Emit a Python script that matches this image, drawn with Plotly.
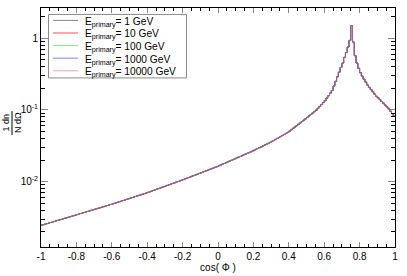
import numpy as np
import plotly.graph_objects as go

# histogram of cos(Phi), 200 bins of width 0.01 from -1 to 1
bin_lo, bin_hi, n_bins = -1.0, 1.0, 200
dn = [
    0.00248, 0.00252, 0.00256, 0.00261, 0.00265, 0.00270, 0.00274, 0.00279, 0.00284, 0.00289,
    0.00293, 0.00298, 0.00304, 0.00309, 0.00314, 0.00319, 0.00325, 0.00330, 0.00336, 0.00342,
    0.00348, 0.00354, 0.00360, 0.00366, 0.00372, 0.00379, 0.00385, 0.00392, 0.00399, 0.00406,
    0.00413, 0.00420, 0.00427, 0.00434, 0.00442, 0.00449, 0.00457, 0.00465, 0.00473, 0.00481,
    0.00490, 0.00499, 0.00508, 0.00518, 0.00527, 0.00537, 0.00547, 0.00557, 0.00568, 0.00578,
    0.00589, 0.00600, 0.00611, 0.00622, 0.00634, 0.00646, 0.00658, 0.00670, 0.00682, 0.00695,
    0.00709, 0.00724, 0.00739, 0.00754, 0.00770, 0.00786, 0.00802, 0.00819, 0.00836, 0.00853,
    0.00871, 0.00889, 0.00907, 0.00926, 0.00945, 0.00965, 0.00985, 0.01005, 0.01026, 0.01047,
    0.01070, 0.01094, 0.01118, 0.01143, 0.01168, 0.01194, 0.01220, 0.01247, 0.01275, 0.01303,
    0.01332, 0.01361, 0.01391, 0.01422, 0.01454, 0.01486, 0.01519, 0.01552, 0.01587, 0.01622,
    0.01663, 0.01705, 0.01748, 0.01792, 0.01837, 0.01883, 0.01931, 0.01979, 0.02029, 0.02081,
    0.02133, 0.02187, 0.02242, 0.02298, 0.02356, 0.02416, 0.02477, 0.02539, 0.02603, 0.02669,
    0.0274, 0.0282, 0.0290, 0.0298, 0.0306, 0.0315, 0.0324, 0.0333, 0.0342, 0.0352,
    0.0364, 0.0375, 0.0388, 0.0400, 0.0413, 0.0427, 0.0441, 0.0455, 0.0470, 0.0486,
    0.0507, 0.0530, 0.0554, 0.0578, 0.0604, 0.0631, 0.0659, 0.0689, 0.0720, 0.0752,
    0.0787, 0.0824, 0.0863, 0.0904, 0.0946, 0.0991, 0.1053, 0.1120, 0.1190, 0.1265,
    0.1345, 0.146, 0.158, 0.171, 0.186, 0.215, 0.250, 0.290, 0.336, 0.390,
    0.45, 0.54, 0.63, 0.75, 0.93, 1.50, 0.88, 0.57, 0.45, 0.38,
    0.33, 0.295, 0.268, 0.244, 0.222, 0.206, 0.192, 0.179, 0.166, 0.155,
    0.147, 0.139, 0.131, 0.124, 0.117, 0.110, 0.103, 0.096, 0.089, 0.082,
]
energies = ["1", "10", "100", "1000", "10000"]
line_colors = ["#000000", "#ff0000", "#00dd00", "#0000ff", "#ff7a90"]
legend_colors = ["#858585", "#ff5050", "#90e090", "#8080ff", "#f0a0a8"]
x_ticks = [-1, -0.8, -0.6, -0.4, -0.2, 0, 0.2, 0.4, 0.6, 0.8, 1]
x_tick_text = ["-1", "-0.8", "-0.6", "-0.4", "-0.2", "0", "0.2", "0.4", "0.6", "0.8", "1"]
y_ticks = [0.01, 0.1, 1]
y_tick_text = ["10<sup>-2</sup>", "10<sup>-1</sup>", "1"]

edges = np.linspace(bin_lo, bin_hi, n_bins + 1)
ystep = list(dn) + [dn[-1]]

W, H = 407, 276
L, R, T, B = 41, 12, 7, 28
pw, ph = W - L - R, H - T - B
font = "Liberation Sans, Arial, sans-serif"


def px_x(px):
    return (px - L) / pw


def px_y(py):
    return 1 - (py - T) / ph


fig = go.Figure()
for e, c in zip(energies, line_colors):
    fig.add_trace(go.Scatter(
        x=edges, y=ystep, mode="lines", opacity=0.6,
        line=dict(color=c, width=1, shape="hv"),
        name=f"E<sub>primary</sub>= {e} GeV", showlegend=False,
    ))

fig.update_layout(
    width=W, height=H,
    margin=dict(l=L, r=R, t=T, b=B),
    paper_bgcolor="white", plot_bgcolor="white",
    font=dict(family=font, size=10, color="black"),
    showlegend=False,
)
fig.update_xaxes(
    range=[-1, 1], tickvals=x_ticks, ticktext=x_tick_text,
    ticks="inside", ticklen=5, tickcolor="#888888", tickwidth=1,
    minor=dict(dtick=0.05, ticks="inside", ticklen=3, tickcolor="black", tickwidth=1),
    showline=True, linecolor="black", linewidth=1, mirror="allticks",
    showgrid=False, zeroline=False,
    title=dict(text="cos( Φ )", font=dict(size=10, color="black"), standoff=0),
    tickfont=dict(size=10, color="black"),
)
fig.update_yaxes(
    type="log", range=[np.log10(0.00123), np.log10(2.63)],
    tickvals=y_ticks, ticktext=y_tick_text,
    ticks="inside", ticklen=7, tickcolor="#888888", tickwidth=1,
    minor=dict(dtick="D1", ticks="inside", ticklen=4, tickcolor="black", tickwidth=1),
    showline=True, linecolor="black", linewidth=1, mirror="allticks",
    showgrid=False, zeroline=False,
    tickfont=dict(size=10, color="black"),
)

# legend box drawn by hand so that its rows are as tight as in the reference
fig.add_shape(type="rect", xref="paper", yref="paper",
              x0=px_x(48.5), x1=px_x(186.5), y0=px_y(77.5), y1=px_y(13.5),
              line=dict(color="#8a8a8a", width=1), fillcolor="white", layer="above")
row_y = [19.5, 32.2, 44.9, 57.6, 70.3]
for e, c, ry in zip(energies, legend_colors, row_y):
    fig.add_shape(type="line", xref="paper", yref="paper",
                  x0=px_x(53), x1=px_x(78), y0=px_y(ry), y1=px_y(ry),
                  line=dict(color=c, width=1), layer="above")
    fig.add_annotation(x=px_x(83), y=px_y(ry), xref="paper", yref="paper",
                       text=f"E<sub>primary</sub>= {e} GeV", showarrow=False,
                       xanchor="left", yanchor="middle", yshift=-2,
                       font=dict(family=font, size=10.2, color="black"))

# rotated fraction label 1/N dn/dOmega
fig.add_annotation(
    x=px_x(12), y=px_y(123), xref="paper", yref="paper",
    text="1 dn<br>N dΩ", textangle=-90, showarrow=False,
    font=dict(family=font, size=9, color="black"), xanchor="center", yanchor="middle",
)
fig.add_shape(
    type="line", xref="paper", yref="paper",
    x0=px_x(12), x1=px_x(12), y0=px_y(111), y1=px_y(135),
    line=dict(color="black", width=1),
)

fig.write_html("out.html",
               config={"displayModeBar": False},
               post_script="document.body.style.margin='0px';document.body.style.padding='0px';")
